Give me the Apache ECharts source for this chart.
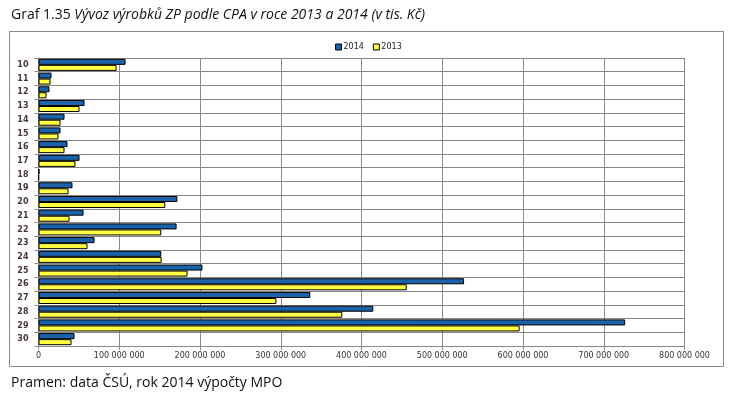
<!DOCTYPE html>
<html>
<head>
<meta charset="utf-8">
<script src="https://cdn.jsdelivr.net/npm/echarts@6/dist/echarts.min.js"></script>
<style>
html,body{margin:0;padding:0;background:#fff;}
#c{width:739px;height:405px;}
</style>
</head>
<body>
<div id="c"></div>
<script>
const categories = ['10','11','12','13','14','15','16','17','18','19','20','21','22','23','24','25','26','27','28','29','30'];
const values2014 = [107800000,16100000,13600000,57000000,32200000,27300000,35900000,50800000,1200000,42100000,172000000,55800000,171000000,69400000,152000000,203000000,527000000,336600000,414600000,726500000,44600000];
const values2013 = [96700000,14900000,9900000,50800000,27300000,24800000,32200000,45800000,400000,37200000,157000000,38400000,152000000,60700000,152500000,184600000,456000000,294600000,376200000,595800000,40900000];
const seriesNames = ['2014','2013'];
const xTicks = { min: 0, max: 800000000, interval: 100000000 };

const chart = echarts.init(document.getElementById('c'), null, {renderer:'canvas'});
function fmt(v){ return String(v).replace(/\B(?=(\d{3})+(?!\d))/g, ' '); }
chart.setOption({
  animation: false,
  backgroundColor: '#fff',
  title: [{
    text: '{n|Graf 1.35 }{i|Vývoz výrobků ZP podle CPA v roce 2013 a 2014 (v tis. Kč)}',
    left: 6, top: 3,
    textStyle: {
      fontWeight: 'normal',
      rich: {
        n: {fontFamily: 'Open Sans', fontSize: 14, fontWeight: 'normal', color: '#111'},
        i: {fontFamily: 'Open Sans', fontSize: 14, fontWeight: 'normal', fontStyle: 'italic', color: '#111'}
      }
    }
  },{
    text: 'Pramen: data ČSÚ, rok 2014 výpočty MPO',
    left: 6, top: 371,
    textStyle: {fontFamily: 'Open Sans', fontSize: 14, fontWeight: 'normal', color: '#111'}
  }],
  graphic: [{
    type: 'rect', shape: {x: 9.5, y: 31.5, width: 714, height: 335},
    style: {fill: 'none', stroke: '#888', lineWidth: 1}, silent: true, z: -1
  }],
  legend: {
    data: seriesNames,
    left: 330, top: 38,
    itemWidth: 6, itemHeight: 6, itemGap: 9,
    icon: 'rect',
    textStyle: {fontFamily: 'DejaVu Sans', fontSize: 8, color: '#222', padding: [0,0,0,-3]},
    itemStyle: {borderColor: '#000', borderWidth: 1}
  },
  grid: {left: 38.5, top: 58, width: 646, height: 288, containLabel: false},
  xAxis: {
    type: 'value', min: xTicks.min, max: xTicks.max, interval: xTicks.interval,
    axisLine: {show: true, lineStyle: {color: '#888'}},
    axisTick: {show: true, length: 4, lineStyle: {color: '#888'}},
    splitLine: {show: true, lineStyle: {color: '#888', width: 1}},
    axisLabel: {formatter: fmt, fontFamily: 'DejaVu Sans', fontSize: 8, color: '#333', margin: 6}
  },
  yAxis: {
    type: 'category', data: categories, inverse: true,
    axisLine: {show: true, lineStyle: {color: '#888'}},
    axisTick: {show: true, length: 4, lineStyle: {color: '#888'}},
    splitLine: {show: true, lineStyle: {color: '#888', width: 1}},
    axisLabel: {fontFamily: 'DejaVu Sans', fontSize: 8, fontWeight: 'bold', color: '#4a3535', margin: 10}
  },
  series: [{
    name: seriesNames[0], type: 'bar', data: values2014,
    itemStyle: {color: '#1a62aa', borderColor: '#000', borderWidth: 1},
    barGap: '0%', barCategoryGap: '12%'
  },{
    name: seriesNames[1], type: 'bar', data: values2013,
    itemStyle: {color: '#ffff44', borderColor: '#000', borderWidth: 1},
    barGap: '0%', barCategoryGap: '12%'
  }]
});
</script>
</body>
</html>
